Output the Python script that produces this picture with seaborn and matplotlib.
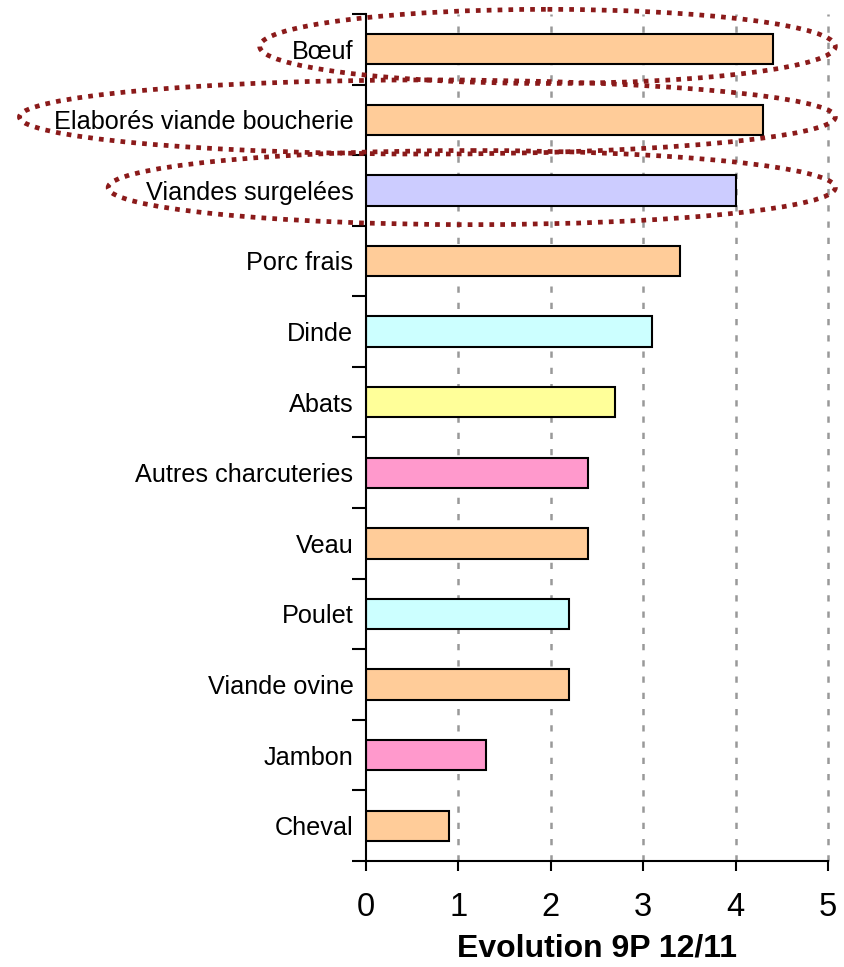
import matplotlib
matplotlib.use('Agg')
import matplotlib.pyplot as plt
from matplotlib.patches import Ellipse
from matplotlib.ticker import FixedLocator
import seaborn as sns
import pandas as pd

# Données
categories = ['Bœuf', 'Elaborés viande boucherie', 'Viandes surgelées', 'Porc frais',
              'Dinde', 'Abats', 'Autres charcuteries', 'Veau', 'Poulet',
              'Viande ovine', 'Jambon', 'Cheval']
evolution = [4.4, 4.3, 4.0, 3.4, 3.1, 2.7, 2.4, 2.4, 2.2, 2.2, 1.3, 0.9]
couleurs = ['#FFCC99', '#FFCC99', '#CCCCFF', '#FFCC99', '#CCFFFF', '#FFFF99',
            '#FF99CC', '#FFCC99', '#CCFFFF', '#FFCC99', '#FF99CC', '#FFCC99']
x_ticks = [0, 1, 2, 3, 4, 5]
surlignes = ['Bœuf', 'Elaborés viande boucherie', 'Viandes surgelées']

df = pd.DataFrame({'categorie': categories, 'evolution': evolution})
palette = dict(zip(categories, couleurs))

sns.set_style('white')
plt.rcParams['font.family'] = ['Liberation Sans', 'DejaVu Sans']
plt.rcParams['text.color'] = 'black'
plt.rcParams['axes.labelcolor'] = 'black'
plt.rcParams['xtick.color'] = 'black'
plt.rcParams['ytick.color'] = 'black'

fig = plt.figure(figsize=(8.44, 9.67), dpi=100)
ax = fig.add_axes([0.4336, 0.1096, 0.5474, 0.876])

sns.barplot(data=df, x='evolution', y='categorie', hue='categorie', palette=palette,
            legend=False, orient='h', width=0.43, edgecolor='black', linewidth=1.5,
            saturation=1, ax=ax)

ax.set_xlim(0, 5)
ax.set_ylim(len(categories) - 0.5, -0.5)
ax.set_xticks(x_ticks)
ax.set_xticklabels([str(t) for t in x_ticks], fontsize=23.5)
ax.tick_params(axis='x', bottom=True, direction='out', length=7, width=1.5, pad=15,
               colors='black')
ax.tick_params(axis='y', which='major', left=True, length=0, pad=9, labelsize=18.2,
               labelcolor='black')
ax.yaxis.set_minor_locator(FixedLocator([i - 0.5 for i in range(len(categories) + 1)]))
ax.tick_params(axis='y', which='minor', left=True, direction='out', length=10, width=1.5,
               color='black')
ax.set_ylabel('')
ax.set_xlabel('Evolution 9P 12/11', fontsize=23, fontweight='bold', labelpad=8,
              color='black')

ax.grid(False)
for t in x_ticks[1:]:
    ax.axvline(t, color='#999999', linestyle=(0, (2.5, 4)), linewidth=1.8, zorder=0,
               clip_on=False)

for s in ['top', 'right']:
    ax.spines[s].set_visible(False)
for s in ['left', 'bottom']:
    ax.spines[s].set_color('black')
    ax.spines[s].set_linewidth(1.5)

# Ellipses pointillées autour des catégories mises en avant
gauches = [-1.15, -3.75, -2.79]
for nom, g in zip(surlignes, gauches):
    i = categories.index(nom)
    droite = 5.08
    e = Ellipse(((g + droite) / 2, i - 0.04), droite - g, 1.05, fill=False,
                edgecolor='#8B1A1A', linestyle=(0, (1, 1.3)), linewidth=3.4,
                clip_on=False, zorder=5)
    ax.add_patch(e)

plt.savefig('out.png', dpi=100)
